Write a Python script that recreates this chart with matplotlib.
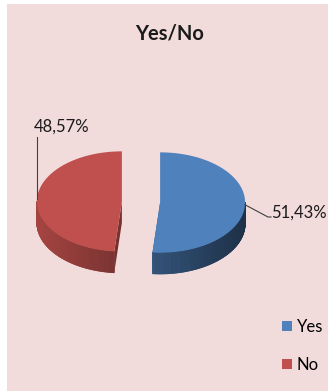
import numpy as np
import matplotlib.pyplot as plt
from matplotlib.patches import Polygon, Rectangle, Patch
from matplotlib.collections import PolyCollection
from matplotlib.colors import to_rgb

plt.rcParams['font.family'] = ['Lato', 'DejaVu Sans']

labels = ['Yes', 'No']
shares = [51.43, 48.57]
colors = ['#4f81bd', '#c0504d']

W, H = 328, 391
fig = plt.figure(figsize=(W / 100, H / 100), dpi=100)
fig.patch.set_facecolor('white')
fig.patches.append(Rectangle((7 / W, 0), 1, 387 / H, transform=fig.transFigure,
                             facecolor='#f2dcdb', edgecolor='none', zorder=-5))

# pie drawn on a unit circle, center at (141, 202) px, radius 85 px
cx, cy, r = 141, 202, 85
ax = fig.add_axes([0, 0, 1, 1])
ax.set_xlim(-cx / r, (W - cx) / r)
ax.set_ylim(-(H - cy) / r, cy / r)
ax.axis('off')

tilt = 0.59
depth = 0.25
explode = 0.225


def shade(c, f):
    return tuple(min(1, v * f) for v in to_rgb(c))


total = sum(shares)
start = 90.0
anchors = []
for share, color in zip(shares, colors):
    span = 360 * share / total
    a0, a1 = start - span, start
    mid = np.radians((a0 + a1) / 2)
    ox = explode * np.cos(mid)
    oy = explode * np.sin(mid) * tilt

    # flat cut faces
    for a in (np.radians(a0), np.radians(a1)):
        px, py = ox + np.cos(a), oy + tilt * np.sin(a)
        ax.add_patch(Polygon([(ox, oy), (px, py), (px, py - depth), (ox, oy - depth)],
                             closed=True, facecolor=shade(color, 0.62),
                             edgecolor='none', zorder=2))

    # outer side wall, only the front half shows
    th = np.radians(np.linspace(a0, a1, 240))
    quads, cols = [], []
    for t0, t1 in zip(th[:-1], th[1:]):
        tm = (t0 + t1) / 2
        if np.sin(tm) >= 0:
            continue
        x0, y0 = ox + np.cos(t0), oy + tilt * np.sin(t0)
        x1, y1 = ox + np.cos(t1), oy + tilt * np.sin(t1)
        quads.append([(x0, y0), (x1, y1), (x1, y1 - depth), (x0, y0 - depth)])
        cols.append(shade(color, 0.62 - 0.24 * np.cos(tm)))
    ax.add_collection(PolyCollection(quads, facecolors=cols, edgecolors=cols,
                                     linewidths=0.6, zorder=3))

    # top face
    rim = np.column_stack([ox + np.cos(th), oy + tilt * np.sin(th)])
    ax.add_patch(Polygon(np.vstack([[ox, oy], rim]), closed=True,
                         facecolor=color, edgecolor='none', zorder=4))

    anchors.append((ox + np.cos(mid), oy + tilt * np.sin(mid)))
    start = a0


def pct(v):
    return f'{v:.2f}%'.replace('.', ',')


def px2data(x, y):
    return (x - cx) / r, (cy - y) / r


# Yes label with elbow leader
ex, ey = px2data(268, 217)
fx, _ = px2data(271, 217)
ax.plot([anchors[0][0], ex, fx], [anchors[0][1], ey, ey], color='#404040', lw=0.8, zorder=5)
tx, ty = px2data(271, 218)
ax.text(tx, ty, pct(shares[0]), fontsize=12, ha='left', va='baseline', color='#1a1a1a')

# No label with vertical leader
_, ly = px2data(0, 137)
ax.plot([anchors[1][0], anchors[1][0]], [anchors[1][1], ly], color='#404040', lw=0.8, zorder=5)
tx, ty = px2data(62, 132)
ax.text(tx, ty, pct(shares[1]), fontsize=12, ha='center', va='baseline', color='#1a1a1a')

fig.text(169.5 / W, 1 - 39 / H, 'Yes/No', fontsize=14.5, fontweight='bold',
         ha='center', va='baseline', color='#1a1a1a')

handles = [Patch(facecolor=c, edgecolor='none', label=l) for c, l in zip(colors, labels)]
fig.legend(handles=handles, loc='upper left', bbox_to_anchor=(282 / W, 1 - 319 / H),
           frameon=False, fontsize=12, handlelength=0.6, handleheight=0.6,
           handletextpad=0.3, labelspacing=1.3, borderpad=0, borderaxespad=0)

fig.savefig('out.png', dpi=100, facecolor=fig.get_facecolor())
